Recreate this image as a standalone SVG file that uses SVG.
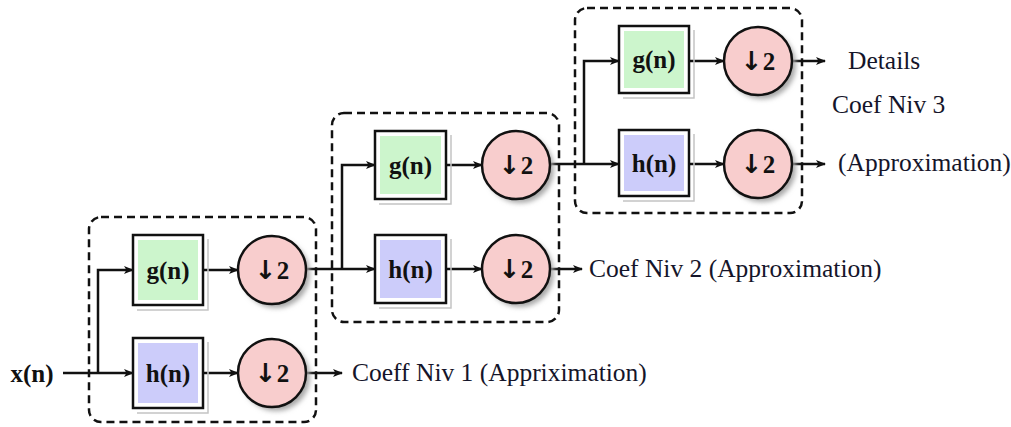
<svg xmlns="http://www.w3.org/2000/svg" width="1011" height="427" viewBox="0 0 1011 427">
  <style>
    .stage { fill: none; stroke: #111; stroke-width: 2.5; stroke-dasharray: 8 5; }
    .frame { fill: #fff; stroke: #111; stroke-width: 2.5; }
    .shadow { fill: none; stroke: #c4c4c4; stroke-width: 1.5; }
    .g-fill { fill: #ccf5cc; }
    .h-fill { fill: #ccccfa; }
    .down { fill: #f8cdcd; stroke: #111; stroke-width: 2.5; }
    .cshadow { fill: #a8a8a8; filter: url(#blur); }
    .arrow { fill: none; stroke: #111; stroke-width: 2.5; marker-end: url(#head); }
    .op { font-family: "Liberation Serif", "DejaVu Serif", serif; font-weight: bold; font-size: 25px; fill: #111; text-anchor: middle; }
    .dn { font-family: "DejaVu Sans", sans-serif; font-weight: bold; font-size: 26px; }
    .lbl { font-family: "Liberation Serif", serif; font-size: 25.5px; fill: #15152a; }
  </style>
  <defs>
    <marker id="head" viewBox="0 0 10 8" refX="9" refY="4" markerWidth="10" markerHeight="8" markerUnits="userSpaceOnUse" orient="auto">
      <path d="M0,0 L10,4 L0,8 L2.5,4 z" fill="#111"/>
    </marker>
    <filter id="blur" x="-20%" y="-20%" width="140%" height="140%">
      <feGaussianBlur stdDeviation="2.5"/>
    </filter>
  </defs>

  <!-- dashed stage outlines -->
  <g id="stages">
    <rect class="stage" x="89" y="217" width="227" height="205" rx="12"/>
    <rect class="stage" x="332" y="113" width="227" height="209" rx="12"/>
    <rect class="stage" x="575" y="8" width="227" height="205" rx="12"/>
  </g>

  <!-- connectors -->
  <g id="connectors">
    <!-- input and level 1 -->
    <path class="arrow" d="M63,373 H133"/>
    <path class="arrow" d="M98,373 V270 H133"/>
    <path class="arrow" d="M203,270 H238"/>
    <path class="arrow" d="M203,373 H238"/>
    <path class="arrow" d="M306,373 H342"/>
    <!-- level 2 -->
    <path class="arrow" d="M306,269 H375"/>
    <path class="arrow" d="M342,269 V165 H375"/>
    <path class="arrow" d="M446,165 H482"/>
    <path class="arrow" d="M446,269 H482"/>
    <path class="arrow" d="M550,269 H582"/>
    <!-- level 3 -->
    <path class="arrow" d="M550,164 H619"/>
    <path class="arrow" d="M584,164 V61 H619"/>
    <path class="arrow" d="M689,61 H724"/>
    <path class="arrow" d="M689,164 H724"/>
    <path class="arrow" d="M792,61 H825"/>
    <path class="arrow" d="M792,164 H825"/>
  </g>

  <!-- level 1 -->
  <g id="g1">
    <path class="shadow" d="M208,239 V310 H137"/>
    <rect class="frame" x="133" y="235" width="70" height="70"/>
    <rect class="g-fill" x="138" y="240" width="60" height="60"/>
    <text class="op" x="168" y="279">g(n)</text>
  </g>
  <g id="h1">
    <path class="shadow" d="M208,342 V413 H137"/>
    <rect class="frame" x="133" y="338" width="70" height="70"/>
    <rect class="h-fill" x="138" y="343" width="60" height="60"/>
    <text class="op" x="168" y="382">h(n)</text>
  </g>
  <g id="d1g">
    <circle class="cshadow" cx="276" cy="274" r="34"/>
    <circle class="down" cx="272" cy="270" r="34"/>
    <text class="op" x="272" y="279"><tspan class="dn">↓</tspan>2</text>
  </g>
  <g id="d1h">
    <circle class="cshadow" cx="276" cy="377" r="34"/>
    <circle class="down" cx="272" cy="373" r="34"/>
    <text class="op" x="272" y="382"><tspan class="dn">↓</tspan>2</text>
  </g>

  <!-- level 2 -->
  <g id="g2">
    <path class="shadow" d="M451,135 V204 H379"/>
    <rect class="frame" x="375" y="131" width="71" height="68"/>
    <rect class="g-fill" x="380" y="136" width="61" height="58"/>
    <text class="op" x="410.5" y="174">g(n)</text>
  </g>
  <g id="h2">
    <path class="shadow" d="M451,239 V308 H379"/>
    <rect class="frame" x="375" y="235" width="71" height="68"/>
    <rect class="h-fill" x="380" y="240" width="61" height="58"/>
    <text class="op" x="410.5" y="278">h(n)</text>
  </g>
  <g id="d2g">
    <circle class="cshadow" cx="520" cy="169" r="34"/>
    <circle class="down" cx="516" cy="165" r="34"/>
    <text class="op" x="516" y="174"><tspan class="dn">↓</tspan>2</text>
  </g>
  <g id="d2h">
    <circle class="cshadow" cx="520" cy="273" r="34"/>
    <circle class="down" cx="516" cy="269" r="34"/>
    <text class="op" x="516" y="278"><tspan class="dn">↓</tspan>2</text>
  </g>

  <!-- level 3 -->
  <g id="g3">
    <path class="shadow" d="M694,30 V98 H623"/>
    <rect class="frame" x="619" y="26" width="70" height="67"/>
    <rect class="g-fill" x="624" y="31" width="60" height="57"/>
    <text class="op" x="654" y="68">g(n)</text>
  </g>
  <g id="h3">
    <path class="shadow" d="M694,134 V201 H623"/>
    <rect class="frame" x="619" y="130" width="70" height="66"/>
    <rect class="h-fill" x="624" y="135" width="60" height="56"/>
    <text class="op" x="654" y="172">h(n)</text>
  </g>
  <g id="d3g">
    <circle class="cshadow" cx="762" cy="65" r="34"/>
    <circle class="down" cx="758" cy="61" r="34"/>
    <text class="op" x="758" y="70"><tspan class="dn">↓</tspan>2</text>
  </g>
  <g id="d3h">
    <circle class="cshadow" cx="762" cy="168" r="34"/>
    <circle class="down" cx="758" cy="164" r="34"/>
    <text class="op" x="758" y="173"><tspan class="dn">↓</tspan>2</text>
  </g>

  <!-- signal and coefficient labels -->
  <g id="labels">
    <text class="op" x="32" y="382">x(n)</text>
    <text class="lbl" x="352" y="381">Coeff Niv 1 (Appriximation)</text>
    <text class="lbl" x="589" y="277">Coef Niv 2 (Approximation)</text>
    <text class="lbl" x="848" y="69">Details</text>
    <text class="lbl" x="832" y="113">Coef Niv 3</text>
    <text class="lbl" x="838" y="171">(Approximation)</text>
  </g>
</svg>
